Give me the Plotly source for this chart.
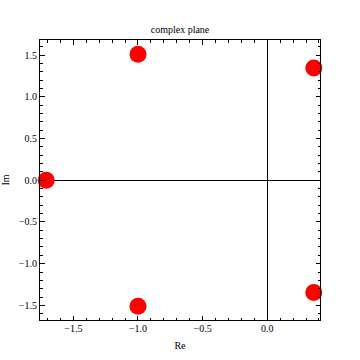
import plotly.graph_objects as go

re_vals = [-1.71, -1.0, -1.0, 0.36, 0.36]
im_vals = [0.0, 1.51, -1.51, 1.345, -1.345]

font = "Liberation Serif, Times New Roman, serif"

fig = go.Figure()
fig.add_trace(go.Scatter(x=re_vals, y=im_vals, mode="markers",
                         marker=dict(color="#ff0000", size=17, line=dict(width=0)),
                         cliponaxis=False, showlegend=False, hoverinfo="skip"))

axis_common = dict(
    showgrid=False, showline=True, linecolor="black", linewidth=1, mirror="ticks",
    ticks="inside", ticklen=4.5, tickwidth=1, tickcolor="black",
    dtick=0.5, tickformat=".1f", automargin=False,
    zeroline=True, zerolinecolor="black", zerolinewidth=1,
    tickfont=dict(family=font, size=10, color="black"),
    minor=dict(dtick=0.1, ticks="inside", ticklen=2.5, tickcolor="black", showgrid=False),
)

fig.update_xaxes(range=[-1.758, 0.408], tick0=0, ticklabelstandoff=-1,
                 title=dict(text="Re", font=dict(family=font, size=10, color="black"), standoff=8),
                 **axis_common)
fig.update_yaxes(range=[-1.675, 1.68], tick0=0,
                 title=dict(text="Im", font=dict(family=font, size=10, color="black"), standoff=11),
                 **axis_common)

fig.update_layout(
    width=360, height=360,
    margin=dict(l=40, r=40, t=40, b=40),
    plot_bgcolor="white", paper_bgcolor="white",
    title=dict(text="complex plane", x=0.5, xanchor="center", y=1 - 29/360, yanchor="middle",
               font=dict(family=font, size=10, color="black")),
)

fig.write_html("out.html", config={"displayModeBar": False},
               post_script="document.body.style.margin='0px';document.body.style.overflow='hidden';")
